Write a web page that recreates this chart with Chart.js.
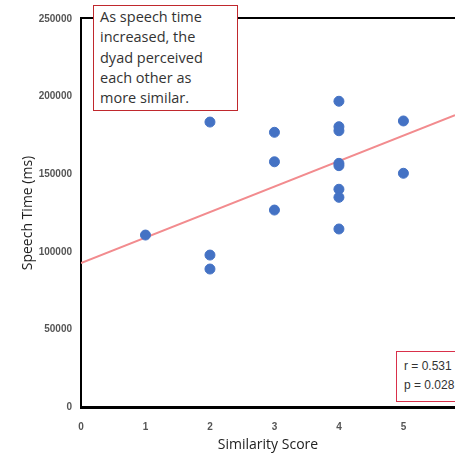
<!DOCTYPE html>
<html lang="en">
<head>
    <meta charset="UTF-8">
    <title>Speech Time vs Similarity Score</title>
    <script src="https://cdn.jsdelivr.net/npm/chart.js"></script>
    <style>
        body {
            margin: 0;
            padding: 0;
            background: #fff;
            overflow: hidden;
        }
        #wrap {
            position: relative;
            width: 455px;
            height: 453px;
            overflow: hidden;
        }
        .note {
            position: absolute;
            background: #fff;
            color: #333;
            box-sizing: border-box;
        }
        #note-main {
            left: 93px;
            top: 5px;
            width: 145px;
            height: 106px;
            border: 1px solid #c0282d;
            font: 14.5px "Open Sans", "Liberation Sans", Arial, sans-serif;
            line-height: 20.3px;
            padding: 1px 0 0 6px;
        }
        #note-stats {
            left: 396px;
            top: 351px;
            width: 80px;
            height: 51px;
            border: 1px solid #d9304a;
            font: 12px "Liberation Sans", Arial, sans-serif;
            line-height: 19px;
            padding: 5px 0 0 7px;
        }
    </style>
</head>
<body>
    <div id="wrap">
        <canvas id="scatter" width="455" height="453"></canvas>
        <div class="note" id="note-main">As speech time<br>increased, the<br>dyad perceived<br>each other as<br>more similar.</div>
        <div class="note" id="note-stats">r = 0.531<br>p = 0.028</div>
    </div>

    <script>
        // similarity scores and speech times (ms)
        const similarity = [1, 2, 2, 2, 3, 3, 3, 4, 4, 4, 4, 4, 4, 4, 4, 5, 5];
        const speechTime = [110800, 183600, 97900, 88900, 177000, 158000, 126900,
                            197000, 180600, 178000, 157000, 155500, 140300, 135100, 114700,
                            184300, 150600];
        // linear trendline end points
        const trendX = [0, 5.8];
        const trendY = [92700, 188100];
        const xTicks = [0, 1, 2, 3, 4, 5];
        const yTicks = [0, 50000, 100000, 150000, 200000, 250000];

        const topBorder = {
            id: 'topBorder',
            afterDraw(chart) {
                const { ctx, chartArea } = chart;
                ctx.save();
                ctx.strokeStyle = '#000';
                ctx.lineWidth = 2;
                ctx.beginPath();
                ctx.moveTo(chartArea.left - 1, chartArea.top - 1);
                ctx.lineTo(chartArea.right, chartArea.top - 1);
                ctx.stroke();
                ctx.restore();
            }
        };

        const tickFont = { family: '"Liberation Sans Narrow", "Liberation Sans", Arial', size: 10, weight: 'bold' };
        const titleFont = { family: '"Open Sans", "Liberation Sans", Arial', size: 14 };

        const ctx = document.getElementById('scatter').getContext('2d');
        new Chart(ctx, {
            type: 'scatter',
            data: {
                datasets: [{
                    label: 'Speech time',
                    data: similarity.map((s, i) => ({ x: s, y: speechTime[i] })),
                    backgroundColor: '#4472c4',
                    borderColor: '#4472c4',
                    pointRadius: 5,
                    pointHoverRadius: 5,
                    order: 1
                }, {
                    label: 'Trend',
                    type: 'line',
                    data: trendX.map((x, i) => ({ x: x, y: trendY[i] })),
                    borderColor: '#f28b8e',
                    borderWidth: 2,
                    pointRadius: 0,
                    fill: false,
                    order: 2
                }]
            },
            options: {
                responsive: false,
                animation: false,
                layout: { autoPadding: false, padding: { top: 19, right: 0, left: 0, bottom: 0 } },
                plugins: {
                    legend: { display: false },
                    tooltip: { enabled: false }
                },
                scales: {
                    x: {
                        type: 'linear',
                        min: 0,
                        max: 5.8,
                        grid: { display: false, drawTicks: false },
                        border: { display: true, color: '#000', width: 3 },
                        afterBuildTicks: (axis) => {
                            axis.ticks = xTicks.map(v => ({ value: v }));
                        },
                        ticks: { padding: 14, color: '#555', font: tickFont },
                        title: {
                            display: true,
                            text: 'Similarity Score',
                            color: '#222',
                            font: titleFont,
                            padding: { top: 0, bottom: 0 }
                        },
                        afterFit: (axis) => {
                            axis.height = 46;
                            axis.paddingLeft = 0;
                            axis.paddingRight = 0;
                        }
                    },
                    y: {
                        min: 0,
                        max: 250000,
                        grid: { display: false, drawTicks: false },
                        border: { display: true, color: '#000', width: 2 },
                        afterBuildTicks: (axis) => {
                            axis.ticks = yTicks.map(v => ({ value: v }));
                        },
                        ticks: {
                            padding: 9,
                            color: '#555',
                            font: tickFont,
                            callback: (v) => String(v)
                        },
                        title: {
                            display: true,
                            text: 'Speech Time (ms)',
                            color: '#222',
                            font: titleFont,
                            padding: { top: 20, bottom: 0 }
                        },
                        afterFit: (axis) => {
                            axis.width = 81;
                            axis.paddingTop = 0;
                            axis.paddingBottom = 0;
                        }
                    }
                }
            },
            plugins: [topBorder]
        });
    </script>
</body>
</html>
